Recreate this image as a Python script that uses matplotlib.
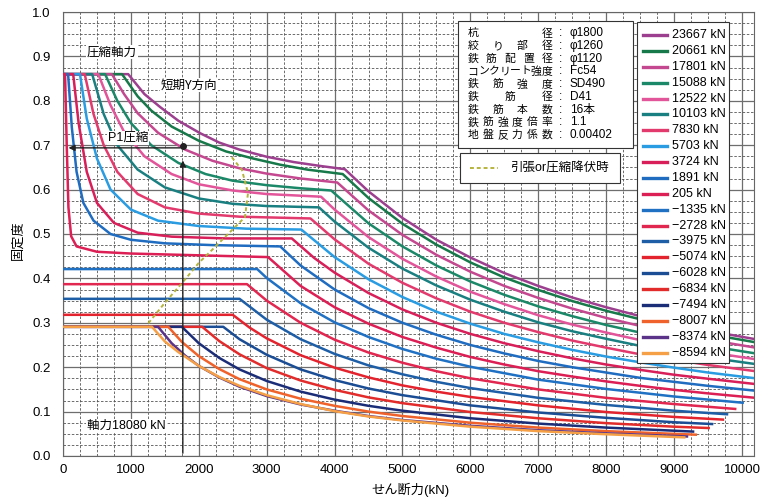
import matplotlib.pyplot as plt
from matplotlib.ticker import MultipleLocator
from matplotlib.patches import Rectangle

plt.rcParams['font.family'] = ['Liberation Sans', 'Noto Sans CJK JP', 'DejaVu Sans']

# 軸力ごとの曲線 (せん断力 kN, 固定度)
s23667 = [(0, .86), (960, .86), (1200, .815), (1430, .786), (1700, .755), (2020, .727), (2300, .706),
          (2600, .69), (3000, .674), (3400, .662), (3800, .653), (4150, .646), (4500, .596), (5000, .536),
          (5500, .487), (6000, .447), (6500, .412), (7000, .383), (7500, .357), (8000, .335), (8500, .315),
          (9000, .298), (9500, .282), (10200, .263)]
s20661 = [(0, .86), (870, .86), (1100, .81), (1300, .778), (1600, .742), (2000, .71), (2400, .686),
          (2800, .67), (3200, .656), (3600, .645), (4120, .635), (4500, .581), (5000, .523), (5500, .476),
          (6000, .436), (6500, .402), (7000, .374), (7500, .349), (8000, .327), (8500, .308), (9000, .291),
          (9500, .275), (10200, .256)]
s17801 = [(0, .86), (720, .86), (900, .815), (1100, .772), (1400, .728), (1800, .69), (2200, .665),
          (2600, .648), (3000, .636), (3500, .625), (4040, .616), (4500, .553), (5000, .498), (5500, .453),
          (6000, .415), (6500, .383), (7000, .356), (7500, .332), (8000, .311), (8500, .293), (9000, .277),
          (9500, .262), (10200, .244)]
s15088 = [(0, .86), (620, .86), (800, .8), (1000, .75), (1300, .7), (1700, .66), (2100, .635), (2500, .62),
          (3000, .61), (3500, .603), (3950, .598), (4500, .524), (5000, .472), (5500, .429), (6000, .393),
          (6500, .363), (7000, .337), (7500, .315), (8000, .295), (8500, .278), (9000, .262), (9500, .248),
          (10200, .231)]
s12522 = [(0, .86), (520, .86), (700, .79), (900, .73), (1200, .675), (1600, .635), (2000, .612),
          (2500, .598), (3000, .59), (3800, .584), (4000, .555), (4500, .493), (5000, .444), (5500, .404),
          (6000, .37), (6500, .342), (7000, .317), (7500, .296), (8000, .278), (8500, .261), (9000, .247),
          (9500, .234), (10200, .218)]
s10103 = [(0, .86), (430, .86), (600, .77), (800, .7), (1100, .645), (1500, .605), (2000, .58), (2500, .568),
          (3000, .563), (3770, .56), (4000, .528), (4500, .469), (5000, .422), (5500, .384), (6000, .352),
          (6500, .325), (7000, .301), (7500, .281), (8000, .264), (8500, .248), (9000, .234), (9500, .222),
          (10200, .207)]
s7830 = [(0, .86), (320, .86), (450, .77), (600, .7), (800, .64), (1100, .59), (1500, .56), (2000, .546),
         (2600, .539), (3645, .535), (4000, .488), (4500, .433), (5000, .39), (5500, .355), (6000, .325),
         (6500, .3), (7000, .279), (7500, .26), (8000, .244), (8500, .229), (9000, .217), (9500, .205),
         (10200, .191)]
s5703 = [(0, .86), (250, .86), (350, .76), (500, .67), (700, .6), (1000, .555), (1400, .53), (2000, .518),
         (2700, .512), (3510, .51), (4000, .448), (4500, .398), (5000, .358), (5500, .325), (6000, .298),
         (6500, .275), (7000, .256), (7500, .239), (8000, .224), (8500, .211), (9000, .199), (9500, .188),
         (10200, .175)]
s3724 = [(0, .86), (150, .86), (230, .75), (350, .64), (500, .57), (750, .525), (1100, .503), (1600, .494),
         (2400, .49), (3370, .49), (3700, .446), (4000, .413), (4500, .367), (5000, .33), (5500, .3),
         (6000, .275), (6500, .254), (7000, .236), (7500, .22), (8000, .206), (8500, .194), (9000, .183),
         (9500, .174), (10200, .162)]
s1891 = [(0, .86), (75, .86), (130, .74), (200, .64), (300, .57), (450, .53), (700, .5), (1000, .487),
         (1500, .479), (2200, .475), (3200, .472), (3500, .429), (4000, .375), (4500, .333), (5000, .3),
         (5500, .273), (6000, .25), (6500, .231), (7000, .214), (7500, .2), (8000, .188), (8500, .176),
         (9000, .167), (9500, .158), (10200, .147)]
s205 = [(0, .86), (30, .86), (55, .7), (80, .56), (120, .495), (200, .472), (500, .46), (1000, .456),
        (2000, .452), (3020, .448), (3500, .383), (4000, .335), (4500, .298), (5000, .268), (5500, .244),
        (6000, .223), (6500, .206), (7000, .191), (7500, .179), (8000, .168), (8500, .158), (9000, .149),
        (9500, .141), (10200, .131)]
sm1335 = [(0, .421), (2860, .421), (3000, .401), (3500, .344), (4000, .301), (4500, .268), (5000, .241),
          (5500, .219), (6000, .201), (7000, .172), (8000, .151), (9000, .134), (10010, .12)]
sm2728 = [(0, .387), (2710, .387), (3000, .35), (3500, .3), (4000, .262), (4500, .233), (5000, .21),
          (5500, .191), (6000, .175), (7000, .15), (8000, .131), (9000, .117), (9900, .106)]
sm3975 = [(0, .354), (2600, .354), (3000, .307), (3500, .263), (4000, .23), (4500, .204), (5000, .184),
          (5500, .167), (6000, .153), (7000, .131), (8000, .115), (9000, .102), (9780, .094)]
sm5074 = [(0, .318), (2500, .318), (2750, .289), (3000, .265), (3500, .227), (4000, .199), (4500, .177),
          (5000, .159), (5500, .145), (6000, .133), (7000, .114), (8000, .099), (9000, .088), (9720, .082)]
sm6028 = [(0, .291), (2360, .291), (2600, .263), (3000, .228), (3500, .195), (4000, .171), (4500, .152),
          (5000, .137), (6000, .114), (7000, .098), (8000, .086), (9000, .076), (9560, .072)]
sm6834 = [(0, .291), (2050, .291), (2300, .259), (2600, .229), (3000, .198), (3500, .17), (4000, .149),
          (4500, .132), (5000, .119), (6000, .099), (7000, .085), (8000, .074), (9000, .066), (9510, .063)]
sm7494 = [(0, .291), (1750, .291), (2000, .254), (2300, .221), (2600, .195), (3000, .169), (3500, .145),
          (4000, .127), (4500, .113), (5000, .102), (6000, .085), (7000, .073), (8000, .064), (9280, .055)]
sm8007 = [(0, .291), (1550, .291), (1750, .257), (2000, .225), (2300, .196), (2600, .173), (3000, .15),
          (3500, .129), (4000, .113), (4500, .1), (5000, .09), (6000, .075), (7000, .064), (8000, .056),
          (9320, .048)]
sm8374 = [(0, .291), (1400, .291), (1600, .254), (1800, .226), (2000, .203), (2300, .177), (2600, .156),
          (3000, .135), (3500, .116), (4000, .102), (4500, .09), (5000, .081), (6000, .068), (7000, .058),
          (8000, .051), (9190, .044)]
sm8594 = [(0, .291), (1310, .291), (1500, .258), (1700, .234), (2000, .203), (2300, .178), (2600, .158),
          (3000, .137), (3500, .117), (4000, .101), (4500, .089), (5000, .08), (6000, .066), (7000, .056),
          (8000, .049), (9150, .042)]

series = [s23667, s20661, s17801, s15088, s12522, s10103, s7830, s5703, s3724, s1891, s205,
          sm1335, sm2728, sm3975, sm5074, sm6028, sm6834, sm7494, sm8007, sm8374, sm8594]
labels = ['23667 kN', '20661 kN', '17801 kN', '15088 kN', '12522 kN', '10103 kN', '7830 kN', '5703 kN',
          '3724 kN', '1891 kN', '205 kN', '\u22121335 kN', '\u22122728 kN', '\u22123975 kN', '\u22125074 kN',
          '\u22126028 kN', '\u22126834 kN', '\u22127494 kN', '\u22128007 kN', '\u22128374 kN', '\u22128594 kN']
colors = ['#9c3f8e', '#17784a', '#c4488f', '#1b8868', '#e2559a', '#1a7f80', '#e33a6e', '#2a9ce2',
          '#d81f5a', '#1f6cc0', '#dc1f55', '#2070c4', '#e1264f', '#1e5ea6', '#e3242f', '#1b4d95',
          '#e22c2c', '#1c2d78', '#f0622b', '#5b3389', '#f5a046']

# 引張or圧縮降伏時
yield_x = [1257, 1500, 1767, 2000, 2194, 2490, 2680, 2725, 2636, 2460]
yield_y = [.299, .345, .392, .435, .464, .509, .538, .592, .644, .678]

spec_names = ['杭径', '絞り部径', '鉄筋配置径', 'コンクリート強度', '鉄筋強度', '鉄筋径', '鉄筋本数',
              '鉄筋強度倍率', '地盤反力係数']
spec_values = ['\u03c61800', '\u03c61260', '\u03c61120', 'Fc54', 'SD490', 'D41', '16本', '1.1', '0.00402']

fig = plt.figure(figsize=(7.74, 4.98), dpi=100)
ax = fig.add_axes([63 / 774, 1 - 456 / 498, 690.5 / 774, 444 / 498])
ax.set_xlim(0, 10170)
ax.set_ylim(0, 1.0)

ax.xaxis.set_major_locator(MultipleLocator(1000))
ax.xaxis.set_minor_locator(MultipleLocator(250))
ax.yaxis.set_major_locator(MultipleLocator(0.1))
ax.yaxis.set_minor_locator(MultipleLocator(0.025))
ax.yaxis.set_major_formatter(lambda v, p: f'{v:.1f}')
ax.grid(which='major', color='#6e6e6e', lw=0.9, ls='-')
ax.grid(which='minor', color='#555555', lw=0.6, ls=(0, (3, 2)))
ax.set_axisbelow(True)
ax.tick_params(which='both', length=0, labelsize=9.5)
ax.tick_params(axis='y', pad=9)
ax.tick_params(axis='x', pad=6)
for sp in ax.spines.values():
    sp.set_color('#666666')

for pts, c in zip(series, colors):
    xs = [p[0] for p in pts]
    ys = [p[1] for p in pts]
    ax.plot(xs, ys, color=c, lw=1.8, solid_joinstyle='round', zorder=3)

ax.plot(yield_x, yield_y, color='#b4b43c', lw=1.4, ls=(0, (2, 1.5)), zorder=4)

# P1 の矢印
ax.annotate('', xy=(40, .694), xytext=(1765, .694),
            arrowprops=dict(arrowstyle='-|>', color='#222222', lw=1, mutation_scale=9), zorder=5)
ax.annotate('', xy=(1765, .672), xytext=(1765, 0),
            arrowprops=dict(arrowstyle='-|>', color='#222222', lw=1, mutation_scale=9), zorder=5)
ax.plot(1765, .699, 'o', color='#222222', ms=4, zorder=6)

jp = ['Noto Sans CJK JP', 'DejaVu Sans']
ax.text(354, .91, '圧縮軸力', fontsize=9, va='center', family=jp, zorder=6,
        bbox=dict(fc='white', ec='none', pad=0.5))
ax.text(1443, .836, '短期Y方向', fontsize=9, va='center', family=jp, zorder=6,
        bbox=dict(fc='white', ec='none', pad=0.5))
ax.text(663, .716, 'P1圧縮', fontsize=9, va='center', zorder=6,
        bbox=dict(fc='white', ec='none', pad=0.5))
ax.text(354, .068, '軸力18080 kN', fontsize=9, va='center', zorder=6,
        bbox=dict(fc='white', ec='none', pad=0.5))

# 諸元の枠
ax.add_patch(Rectangle((5817, .694), 8395 - 5817, .98 - .694, fc='white', ec='#333333', lw=0.8, zorder=7))
row_y0, row_dy = (456 - 33.3) / 444, 12.7 / 444
for i, (name, val) in enumerate(zip(spec_names, spec_values)):
    y = row_y0 - i * row_dy
    n = len(name)
    left, right = 5965 + 75, 7202 - 75
    for j, ch in enumerate(name):
        xc = left + (right - left) * j / (n - 1)
        ax.text(xc, y, ch, fontsize=7.8, ha='center', va='center', family=jp, zorder=8)
    ax.text(7334, y, ':', fontsize=8.5, ha='center', va='center', zorder=8)
    ax.text(7467, y, val, fontsize=8.5, ha='left', va='center', zorder=8)

# 降伏時の凡例
ax.add_patch(Rectangle((5847, .615), 8203 - 5847, .682 - .615, fc='white', ec='#333333', lw=0.8, zorder=7))
ax.plot([5994, 6406], [.649, .649], color='#b4b43c', lw=1.4, ls=(0, (2, 1.5)), zorder=8)
ax.text(6583, .649, '引張or圧縮降伏時', fontsize=9, va='center', zorder=8)

# 軸力の凡例
ax.add_patch(Rectangle((8454, .2095), 9809 - 8454, .9775 - .2095, fc='white', ec='#333333', lw=0.8,
                       zorder=7))
for i, (lab, c) in enumerate(zip(labels, colors)):
    y = (456 - 35 - 15.88 * i) / 444
    ax.plot([8542, 8895], [y, y], color=c, lw=2.4, zorder=8)
    ax.text(8969, y, lab, fontsize=9, va='center', zorder=8)

fig.text(18 / 774, 1 - 240 / 498, '固定度', rotation=90, ha='center', va='center', fontsize=9.5)
fig.text(410 / 774, 1 - 490 / 498, 'せん断力(kN)', ha='center', va='center', fontsize=9.5)

fig.savefig('out.png', dpi=100)
